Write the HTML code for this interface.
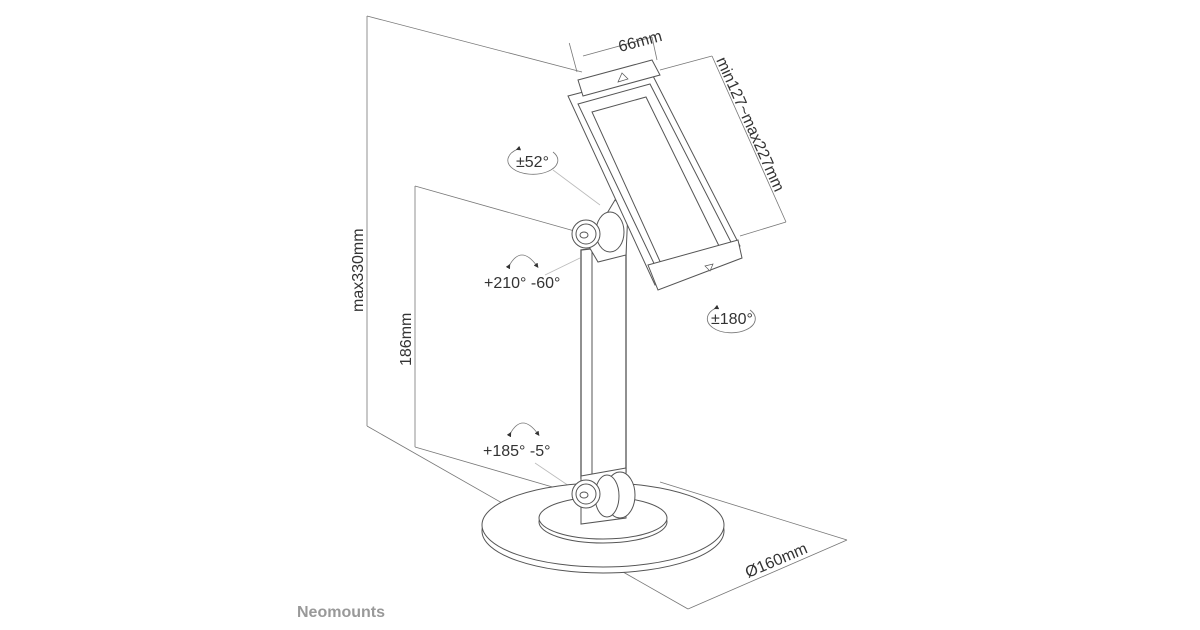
<!DOCTYPE html>
<html><head><meta charset="utf-8"><style>
html,body{margin:0;padding:0;background:#fff;}
svg{display:block;font-family:"Liberation Sans",sans-serif;}
</style></head><body>
<svg width="1200" height="630" viewBox="0 0 1200 630" xmlns="http://www.w3.org/2000/svg">
<defs>
<marker id="ah" markerWidth="6" markerHeight="6" refX="3" refY="3" orient="auto"><path d="M0,0 L6,3 L0,6 Z" fill="#333"/></marker>
</defs>
<g stroke="#777" stroke-width="0.8" fill="none">
  <line x1="367" y1="16" x2="367" y2="426"/>
  <line x1="367" y1="16" x2="582" y2="72"/>
  <line x1="367" y1="426" x2="688" y2="609"/>
  <line x1="688" y1="609" x2="847" y2="540"/>
  <line x1="660" y1="482" x2="847" y2="540"/>
  <line x1="415" y1="186" x2="415" y2="447"/>
  <line x1="415" y1="186" x2="578" y2="232"/>
  <line x1="415" y1="447" x2="580" y2="495"/>
  <line x1="577" y1="72" x2="577" y2="42" transform="rotate(-15 577 72)"/>
  <line x1="583" y1="56" x2="652" y2="37"/>
  <line x1="652" y1="37" x2="657" y2="60"/>
  <line x1="660" y1="70" x2="712" y2="56"/>
  <line x1="712" y1="56" x2="786" y2="222"/>
  <line x1="786" y1="222" x2="740" y2="236"/>
  <line x1="553" y1="170" x2="600" y2="205" stroke="#bbb"/>
  <line x1="545" y1="275" x2="580" y2="258" stroke="#bbb"/>
  <line x1="535" y1="463" x2="575" y2="490" stroke="#bbb"/>
</g>
<g stroke="#555" stroke-width="1" fill="#fff">
  <ellipse cx="603" cy="531" rx="121" ry="42"/>
  <ellipse cx="603" cy="525" rx="121" ry="42"/>
  <ellipse cx="603" cy="522" rx="64" ry="21"/>
  <ellipse cx="603" cy="518" rx="64" ry="21"/>
  <path d="M581 250 L581 478 L626 472 L626 245 Z" stroke-width="1.3"/>
  <line x1="592" y1="250" x2="592" y2="477"/>
  <path d="M581 476 L626 468 L626 518 L581 524 Z"/>
  <ellipse cx="620" cy="495" rx="15" ry="23"/>
  <ellipse cx="607" cy="496" rx="12" ry="21"/>
  <circle cx="586" cy="494" r="14"/>
  <circle cx="586" cy="494" r="10"/>
  <ellipse cx="584" cy="495" rx="4" ry="3"/>
  <path d="M588 245 L615 200 L628 210 L626 255 L598 262 Z"/>
  <ellipse cx="610" cy="232" rx="14" ry="20"/>
  <circle cx="586" cy="234" r="14"/>
  <circle cx="586" cy="234" r="10"/>
  <ellipse cx="584" cy="235" rx="4" ry="3"/>
  <path d="M568 96 L652 74 L740 246 L655 285 Z" fill="#fff"/>
  <path d="M578 104 L650 84 L733 246 L660 276 Z"/>
  <path d="M592 112 L646 97 L720 248 L663 268 Z"/>
  <path d="M578 80 L652 60 L660 75 L583 96 Z"/>
  <path d="M648 265 L738 240 L742 258 L658 290 Z"/>
  <path d="M618 82 L628 79 L622 73 Z" stroke-width="0.7"/>
  <path d="M705 266 L713 264 L710 271 Z" stroke-width="0.7"/>
</g>
<g stroke="#777" stroke-width="0.8" fill="none">
  <path d="M518 149 A25 14 0 1 0 553 152" marker-start="url(#ah)"/>
  <path d="M716 308 A24 14 0 1 0 750 310" marker-start="url(#ah)"/>
  <path d="M509 266 Q521 244 537 266" marker-start="url(#ah)" marker-end="url(#ah)"/>
  <path d="M510 434 Q522 412 538 434" marker-start="url(#ah)" marker-end="url(#ah)"/>
</g>
<g font-size="16" fill="#333">
  <text x="516" y="167">±52°</text>
  <text x="484" y="288">+210° -60°</text>
  <text x="711" y="324">±180°</text>
  <text x="483" y="456">+185° -5°</text>
  <text x="620" y="52" transform="rotate(-15 620 52)">66mm</text>
  <text x="716" y="60" transform="rotate(66 716 60)">min127~max227mm</text>
  <text x="0" y="0" transform="translate(363 312) rotate(-90)">max330mm</text>
  <text x="0" y="0" transform="translate(411 366) rotate(-90)">186mm</text>
  <text x="748" y="578" transform="rotate(-23 748 578)">Ø160mm</text>
</g>
<text x="297" y="617" font-size="16" font-weight="bold" fill="#999">Neomounts</text>
</svg>
</body></html>
